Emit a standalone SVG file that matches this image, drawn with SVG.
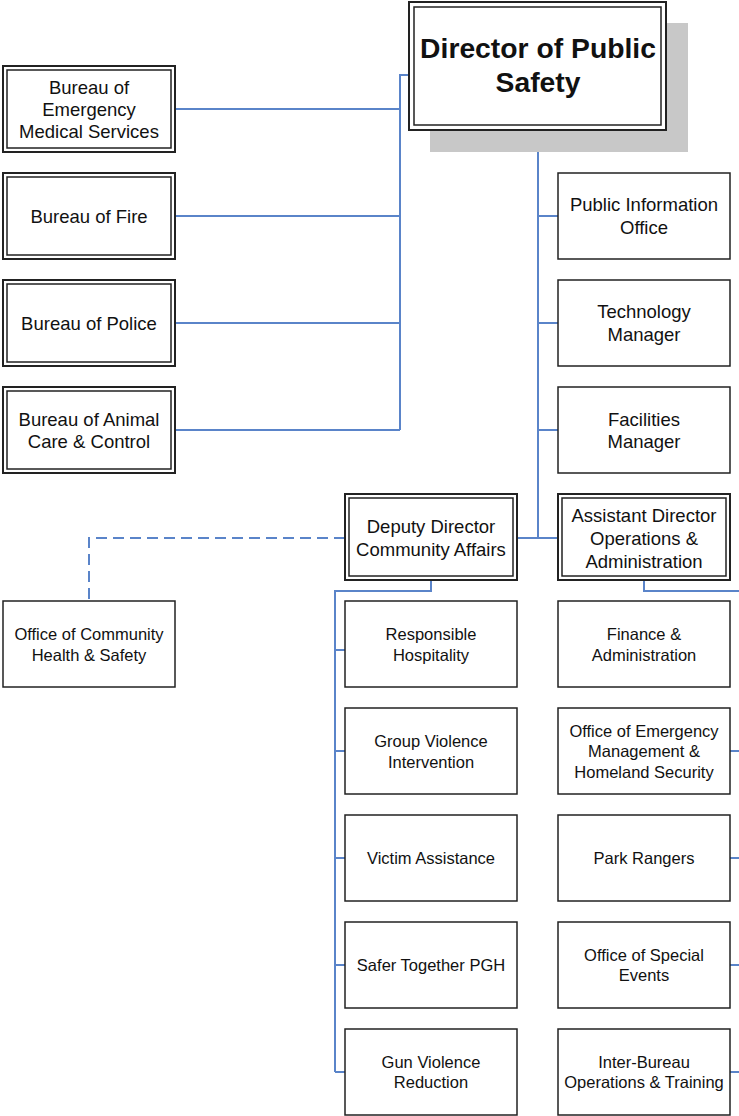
<svg xmlns="http://www.w3.org/2000/svg" width="739" height="1116" viewBox="0 0 739 1116">
<style>
.o{fill:#fff;stroke:#222;stroke-width:2}
.i{fill:none;stroke:#222;stroke-width:1.5}
.s{fill:#fff;stroke:#222;stroke-width:1.5}
.c{fill:none;stroke:#5a84c9;stroke-width:2}
.d{fill:none;stroke:#5a84c9;stroke-width:2;stroke-dasharray:11 6}
text{font-family:"Liberation Sans",Arial,sans-serif;fill:#111;text-anchor:middle}
.L{font-size:18.5px}
.S{font-size:16.5px}
.B{font-size:28.3px;font-weight:bold}
</style>
<rect width="739" height="1116" fill="#fff"/>
<g id="connectors">
<path class="c" d="M409,75 H400 V430 M175,109 H400 M175,216 H400 M175,323 H400 M175,430 H400"/>
<path class="c" d="M538,130 V538 M538,216 H558 M538,323 H558 M538,430 H558 M517,538 H558"/>
<path class="d" d="M345,538 H89 V601"/>
<path class="c" d="M431,580 V591 H335 V1072 M335,650 H345 M335,751 H345 M335,858 H345 M335,965 H345 M335,1072 H345"/>
<path class="c" d="M644,580 V591 H739 M730,751 H739 M730,858 H739 M730,965 H739 M730,1072 H739"/>
</g>
<g id="director">
<rect x="430" y="23" width="258" height="129" fill="#c8c8c8"/>
<rect class="o" x="409" y="2" width="257" height="128"/>
<rect class="i" x="414" y="7" width="247" height="118"/>
<text class="B" x="538" y="58">Director of Public</text>
<text class="B" x="538" y="92">Safety</text>
</g>
<g id="ems">
<rect class="o" x="3" y="66" width="172" height="86"/><rect class="i" x="7" y="70" width="164" height="78"/>
<text class="L" x="89" y="93.5">Bureau of</text><text class="L" x="89" y="115.5">Emergency</text><text class="L" x="89" y="137.5">Medical Services</text>
</g>
<g id="fire">
<rect class="o" x="3" y="173" width="172" height="86"/><rect class="i" x="7" y="177" width="164" height="78"/>
<text class="L" x="89" y="222.5">Bureau of Fire</text>
</g>
<g id="police">
<rect class="o" x="3" y="280" width="172" height="86"/><rect class="i" x="7" y="284" width="164" height="78"/>
<text class="L" x="89" y="329.5">Bureau of Police</text>
</g>
<g id="animal">
<rect class="o" x="3" y="387" width="172" height="86"/><rect class="i" x="7" y="391" width="164" height="78"/>
<text class="L" x="89" y="425.5">Bureau of Animal</text><text class="L" x="89" y="447.5">Care &amp; Control</text>
</g>
<g id="pio">
<rect class="s" x="558" y="173" width="172" height="86"/>
<text class="L" x="644" y="210.5">Public Information</text><text class="L" x="644" y="233.5">Office</text>
</g>
<g id="tech">
<rect class="s" x="558" y="280" width="172" height="86"/>
<text class="L" x="644" y="318">Technology</text><text class="L" x="644" y="340.5">Manager</text>
</g>
<g id="facilities">
<rect class="s" x="558" y="387" width="172" height="86"/>
<text class="L" x="644" y="425.5">Facilities</text><text class="L" x="644" y="447.5">Manager</text>
</g>
<g id="deputy">
<rect class="o" x="345" y="494" width="172" height="86"/><rect class="i" x="349" y="498" width="164" height="78"/>
<text class="L" x="431" y="532.5">Deputy Director</text><text class="L" x="431" y="555.5">Community Affairs</text>
</g>
<g id="assistant">
<rect class="o" x="558" y="494" width="172" height="86"/><rect class="i" x="562" y="498" width="164" height="78"/>
<text class="L" x="644" y="521.5">Assistant Director</text><text class="L" x="644" y="544.5">Operations &amp;</text><text class="L" x="644" y="567.5">Administration</text>
</g>
<g id="community-health">
<rect class="s" x="3" y="601" width="172" height="86"/>
<text class="S" x="89" y="640">Office of Community</text><text class="S" x="89" y="661">Health &amp; Safety</text>
</g>
<g id="hospitality">
<rect class="s" x="345" y="601" width="172" height="86"/>
<text class="S" x="431" y="640">Responsible</text><text class="S" x="431" y="661">Hospitality</text>
</g>
<g id="group-violence">
<rect class="s" x="345" y="708" width="172" height="86"/>
<text class="S" x="431" y="747">Group Violence</text><text class="S" x="431" y="768">Intervention</text>
</g>
<g id="victim">
<rect class="s" x="345" y="815" width="172" height="86"/>
<text class="S" x="431" y="864">Victim Assistance</text>
</g>
<g id="safer">
<rect class="s" x="345" y="922" width="172" height="86"/>
<text class="S" x="431" y="971">Safer Together PGH</text>
</g>
<g id="gun-violence">
<rect class="s" x="345" y="1029" width="172" height="86"/>
<text class="S" x="431" y="1068">Gun Violence</text><text class="S" x="431" y="1088">Reduction</text>
</g>
<g id="finance">
<rect class="s" x="558" y="601" width="172" height="86"/>
<text class="S" x="644" y="640">Finance &amp;</text><text class="S" x="644" y="661">Administration</text>
</g>
<g id="oem">
<rect class="s" x="558" y="708" width="172" height="86"/>
<text class="S" x="644" y="737">Office of Emergency</text><text class="S" x="644" y="757">Management &amp;</text><text class="S" x="644" y="778">Homeland Security</text>
</g>
<g id="rangers">
<rect class="s" x="558" y="815" width="172" height="86"/>
<text class="S" x="644" y="864">Park Rangers</text>
</g>
<g id="events">
<rect class="s" x="558" y="922" width="172" height="86"/>
<text class="S" x="644" y="961">Office of Special</text><text class="S" x="644" y="981">Events</text>
</g>
<g id="interbureau">
<rect class="s" x="558" y="1029" width="172" height="86"/>
<text class="S" x="644" y="1068">Inter-Bureau</text><text class="S" x="644" y="1088">Operations &amp; Training</text>
</g>
</svg>
